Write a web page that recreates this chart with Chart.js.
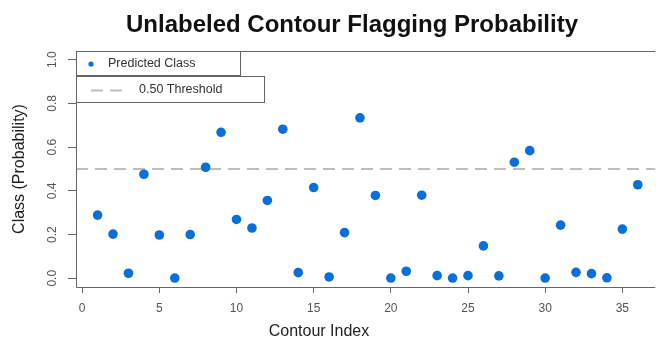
<!DOCTYPE html>
<html>
<head>
<meta charset="utf-8">
<script src="https://cdn.jsdelivr.net/npm/chart.js@4.4.0/dist/chart.umd.min.js"></script>
<style>
  html, body { margin: 0; padding: 0; background: #fff; }
  #wrap { width: 658px; height: 340px; }
</style>
</head>
<body>
<div id="wrap"><canvas id="myChart" width="658" height="340"></canvas></div>
<script>
// contour index 1..36 and predicted class probability
var contourIndex = [1,2,3,4,5,6,7,8,9,10,11,12,13,14,15,16,17,18,
                    19,20,21,22,23,24,25,26,27,28,29,30,31,32,33,34,35,36];
var probability = [0.289,0.202,0.023,0.476,0.198,0.001,0.200,0.508,0.668,0.269,0.230,0.356,
                   0.682,0.026,0.415,0.006,0.209,0.734,0.379,0.001,0.032,0.380,0.012,0.001,
                   0.012,0.148,0.011,0.531,0.584,0.001,0.243,0.027,0.021,0.002,0.225,0.428];
var threshold = 0.5;
var xTicks = [0,5,10,15,20,25,30,35];
var yTicks = [0,0.2,0.4,0.6,0.8,1.0];

var pts = contourIndex.map(function(x, i) { return {x: x, y: probability[i]}; });

var blue = '#0a6fd8';
var axisGrey = '#666';

// R-style decorations: box, threshold line, legend, titles
var rStyle = {
  id: 'rStyle',
  beforeDatasetsDraw: function(chart) {
    var c = chart.ctx, a = chart.chartArea;
    var ty = chart.scales.y.getPixelForValue(threshold);
    c.save();
    c.strokeStyle = '#bdbdbd';
    c.lineWidth = 2;
    c.setLineDash([12, 7]);
    c.beginPath();
    c.moveTo(a.left, ty);
    c.lineTo(a.right + 2, ty);
    c.stroke();
    c.restore();
  },
  afterDraw: function(chart) {
    var c = chart.ctx, a = chart.chartArea;
    c.save();
    // box (right side is cut off in the original)
    c.strokeStyle = axisGrey;
    c.lineWidth = 1;
    c.beginPath();
    c.moveTo(a.right + 2, a.top + 0.5);
    c.lineTo(a.left + 0.5, a.top + 0.5);
    c.lineTo(a.left + 0.5, a.bottom + 0.5);
    c.lineTo(a.right + 2, a.bottom + 0.5);
    c.stroke();

    // legend boxes
    c.fillStyle = '#fff';
    c.fillRect(a.left + 0.5, a.top + 0.5, 164, 24);
    c.strokeRect(a.left + 0.5, a.top + 0.5, 164, 24);
    c.fillRect(a.left + 0.5, a.top + 25.5, 188, 26);
    c.strokeRect(a.left + 0.5, a.top + 25.5, 188, 26);

    c.fillStyle = blue;
    c.beginPath();
    c.arc(91, 64, 2.6, 0, Math.PI * 2);
    c.fill();
    c.strokeStyle = '#bdbdbd';
    c.lineWidth = 2;
    c.setLineDash([12, 7]);
    c.beginPath();
    c.moveTo(91, 90.5);
    c.lineTo(123, 90.5);
    c.stroke();
    c.setLineDash([]);

    c.fillStyle = '#333';
    c.font = '12.5px "Liberation Sans", Arial, sans-serif';
    c.textBaseline = 'middle';
    c.textAlign = 'left';
    c.fillText('Predicted Class', 108, 64);
    c.fillText('0.50 Threshold', 139, 90);

    // titles
    c.fillStyle = '#111';
    c.textAlign = 'center';
    c.textBaseline = 'alphabetic';
    c.font = 'bold 24px "Liberation Sans", Arial, sans-serif';
    c.fillText('Unlabeled Contour Flagging Probability', 352, 32);
    c.fillStyle = '#222';
    c.font = '16px "Liberation Sans", Arial, sans-serif';
    c.textBaseline = 'middle';
    c.fillText('Contour Index', 319, 332);
    c.translate(20, 169);
    c.rotate(-Math.PI / 2);
    c.fillText('Class (Probability)', 0, 0);
    c.restore();
  }
};

new Chart(document.getElementById('myChart'), {
  type: 'scatter',
  data: {
    datasets: [{
      label: 'Predicted Class',
      data: pts,
      backgroundColor: blue,
      borderColor: blue,
      pointRadius: 4.8,
      pointHoverRadius: 4.8,
      borderWidth: 0
    }]
  },
  options: {
    responsive: false,
    animation: false,
    layout: { padding: { left: 0, top: 51, right: 1, bottom: 0 } },
    plugins: {
      legend: { display: false },
      title: { display: false },
      tooltip: { enabled: false }
    },
    scales: {
      x: {
        type: 'linear',
        min: -0.4,
        max: 37.0,
        afterBuildTicks: function(s) { s.ticks = xTicks.map(function(v) { return {value: v}; }); },
        afterFit: function(s) { s.height = 53; },
        border: { display: false },
        grid: { display: true, drawOnChartArea: false, drawTicks: true, tickLength: 6, color: axisGrey },
        ticks: {
          color: '#555',
          padding: 8,
          maxRotation: 0,
          font: { family: '"Liberation Sans", Arial, sans-serif', size: 12 }
        }
      },
      y: {
        type: 'linear',
        min: -0.04,
        max: 1.04,
        afterBuildTicks: function(s) { s.ticks = yTicks.map(function(v) { return {value: v}; }); },
        afterFit: function(s) { s.width = 76; },
        border: { display: false },
        grid: { display: true, drawOnChartArea: false, drawTicks: true, tickLength: 8, color: axisGrey },
        ticks: {
          color: '#555',
          padding: 7,
          minRotation: 90,
          maxRotation: 90,
          crossAlign: 'center',
          callback: function(v) { return v.toFixed(1); },
          font: { family: '"Liberation Sans", Arial, sans-serif', size: 12 }
        }
      }
    }
  },
  plugins: [rStyle]
});
</script>
</body>
</html>
